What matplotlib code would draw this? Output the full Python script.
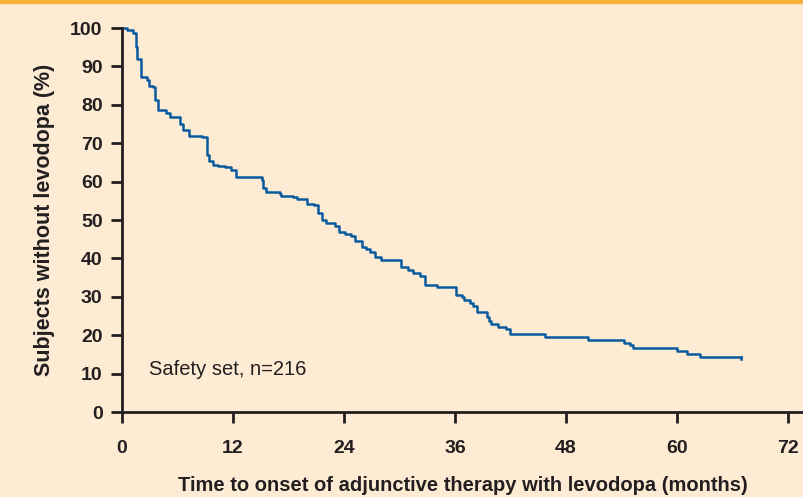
import matplotlib
matplotlib.use('Agg')
import matplotlib.pyplot as plt
from matplotlib.patches import Rectangle

# Kaplan-Meier style step curve (months, % without levodopa)
months = [0, 0.5, 1.2, 1.5, 1.6, 2.1, 2.7, 2.95, 3.4, 3.56, 3.9, 4.8, 5.2, 6.3, 6.55,
          7.2, 8.05, 8.6, 9.15, 9.4, 9.85, 10.4, 11.1, 11.8, 12.3, 14.2, 15.1, 15.25,
          15.6, 17.1, 17.2, 18.5, 18.9, 19.95, 20.8, 21.2, 21.6, 22.1, 23.0, 23.5,
          24.1, 24.8, 25.2, 25.9, 26.4, 26.8, 27.3, 28.0, 29.8, 30.2, 30.9, 31.5,
          32.2, 32.8, 34.0, 36.0, 36.1, 36.7, 37.0, 37.6, 37.9, 38.35, 39.4, 39.7,
          39.9, 40.6, 41.5, 41.9, 45.7, 50.4, 54.3, 54.9, 55.2, 60.0, 61.1, 62.5, 66.9]
survival = [100, 99.5, 98.7, 95, 92, 87.3, 86.5, 84.9, 84.7, 81.2, 78.6, 77.8, 76.7, 75, 73.4,
            72, 71.8, 71.5, 66.9, 65.5, 64.3, 64.1, 63.7, 63, 61.1, 61.1, 60.4, 58.4,
            57.4, 56.8, 56.3, 56.0, 55.4, 54.3, 53.9, 51.7, 50, 49.3, 48.4, 47,
            46.4, 45.8, 44.6, 43.1, 42.4, 41.8, 40.5, 39.6, 39.6, 37.7, 37, 36.1,
            35.5, 33.1, 32.6, 32.6, 30.5, 30, 29.2, 28.3, 27.5, 26.1, 24.8, 23.7,
            22.9, 22.2, 21.6, 20.2, 19.45, 18.75, 18.0, 17.4, 16.7, 15.9, 15.1, 14.4, 14.4]
end_month = 66.9
end_value = 13.7

x_ticks = [0, 12, 24, 36, 48, 60, 72]
y_ticks = [0, 10, 20, 30, 40, 50, 60, 70, 80, 90, 100]

bg = '#FDEBD3'
line_col = '#0A5A9E'
ink = '#231F20'
bold_font = ['Liberation Sans', 'DejaVu Sans']

fig = plt.figure(figsize=(8.04, 4.97), dpi=100, facecolor=bg)
ax = fig.add_axes([0.1517, 0.171, 0.847, 0.7726], facecolor=bg)

ax.step(months, survival, where='post', color=line_col, lw=1.8, clip_on=False)
ax.plot([end_month, end_month], [survival[-1], end_value], color=line_col, lw=1.8)

ax.set_xlim(0, 73.6)
ax.set_ylim(0, 100)
ax.set_xticks(x_ticks)
ax.set_yticks(y_ticks)

for s in ['top', 'right']:
    ax.spines[s].set_visible(False)
for s in ['left', 'bottom']:
    ax.spines[s].set_linewidth(2.0)
    ax.spines[s].set_color(ink)
ax.tick_params(axis='both', direction='out', length=8, width=2, color=ink)
ax.tick_params(axis='x', pad=12)
ax.tick_params(axis='y', pad=6)

for lab in ax.get_xticklabels() + ax.get_yticklabels():
    lab.set_family(bold_font)
    lab.set_fontweight('bold')
    lab.set_fontsize(14)
    lab.set_color(ink)

ax.set_xlabel('Time to onset of adjunctive therapy with levodopa (months)',
              family=bold_font, fontweight='bold', fontsize=14.5, color=ink, labelpad=14)
ax.set_ylabel('Subjects without levodopa (%)',
              family=bold_font, fontweight='bold', fontsize=15.5, color=ink, labelpad=11)

ax.text(2.9, 11.0, 'Safety set, n=216', fontsize=14.5, family=['Liberation Sans', 'DejaVu Sans'],
        color=ink, va='center')

# orange band along the top edge
fig.patches.append(Rectangle((0, 0.994), 1, 0.006, transform=fig.transFigure,
                             color='#F7B23B', zorder=5))

fig.savefig('out.png', dpi=100, facecolor=bg)
